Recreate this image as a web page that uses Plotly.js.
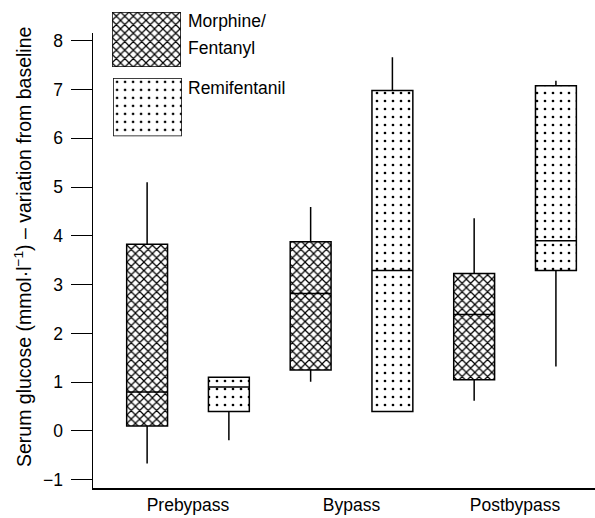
<!DOCTYPE html>
<html>
<head>
<meta charset="utf-8">
<script src="https://cdn.plot.ly/plotly-3.0.1.min.js"></script>
<style>
  html, body { margin: 0; padding: 0; background: #fff; }
  #chart { width: 595px; height: 518px; }
</style>
</head>
<body>
<div id="chart"></div>
<script>
// Phases of surgery
const categories = ['Prebypass', 'Bypass', 'Postbypass'];

// Morphine/Fentanyl group: change in serum glucose (mmol/l)
const morphMin = [-0.67, 1.01, 0.62];
const morphQ1  = [0.10, 1.25, 1.05];
const morphMed = [0.80, 2.82, 2.39];
const morphQ3  = [3.83, 3.88, 3.23];
const morphMax = [5.10, 4.59, 4.36];

// Remifentanil group
const remiMin = [-0.19, 0.40, 1.32];
const remiQ1  = [0.40, 0.40, 3.29];
const remiMed = [0.90, 3.29, 3.90];
const remiQ3  = [1.10, 6.98, 7.08];
const remiMax = [1.10, 7.66, 7.18];

const yTicks = [-1, 0, 1, 2, 3, 4, 5, 6, 7, 8];

const FONT = 'Liberation Sans, Arial, Helvetica, sans-serif';
const BOX_W = 0.25;
const pos = categories.map((c, i) => i);
const morphX = pos.map(p => p - 0.25);
const remiX = pos.map(p => p + 0.25);

const crossPattern = { shape: 'x', size: 6, solidity: 0.36, fgcolor: '#000', bgcolor: '#fff', fillmode: 'replace' };
const dotPattern = { shape: '.', size: 8, solidity: 0.09, fgcolor: '#000', bgcolor: '#fff', fillmode: 'replace' };

function fillBar(x, q1, q3, pattern) {
  return {
    type: 'bar', x: x, base: q1, y: q3.map((v, i) => v - q1[i]),
    width: BOX_W, marker: { color: '#fff', pattern: pattern, line: { width: 0 } },
    xaxis: 'x', yaxis: 'y', showlegend: false, hoverinfo: 'skip'
  };
}

function outlineBox(x, lo, q1, med, q3, hi) {
  return {
    type: 'box', x: x, lowerfence: lo, q1: q1, median: med, q3: q3, upperfence: hi,
    width: BOX_W, whiskerwidth: 0, boxpoints: false,
    fillcolor: 'rgba(0,0,0,0)', line: { color: '#000', width: 1.5 },
    xaxis: 'x', yaxis: 'y', showlegend: false, hoverinfo: 'skip'
  };
}

function swatch(ax, pattern) {
  return {
    type: 'bar', x: [0], y: [1], width: [1], cliponaxis: false,
    marker: { color: '#fff', pattern: pattern, line: { color: '#000', width: 1.5 } },
    xaxis: 'x' + ax, yaxis: 'y' + ax, showlegend: false, hoverinfo: 'skip'
  };
}

const data = [
  fillBar(morphX, morphQ1, morphQ3, crossPattern),
  fillBar(remiX, remiQ1, remiQ3, dotPattern),
  outlineBox(morphX, morphMin, morphQ1, morphMed, morphQ3, morphMax),
  outlineBox(remiX, remiMin, remiQ1, remiMed, remiQ3, remiMax),
  swatch(2, crossPattern),
  swatch(3, dotPattern)
];

const hiddenAxis = { visible: false, showgrid: false, zeroline: false, fixedrange: true };

const layout = {
  width: 595, height: 518,
  margin: { l: 93, r: 0, t: 10, b: 30 },
  paper_bgcolor: '#fff', plot_bgcolor: 'rgba(0,0,0,0)',
  font: { family: FONT, size: 17.5, color: '#000' },
  barmode: 'overlay', boxmode: 'overlay',
  showlegend: false,
  xaxis: {
    domain: [0, 1], range: [-0.581, 2.489],
    tickmode: 'array', tickvals: pos, ticktext: categories,
    ticks: '', showline: true, linecolor: '#000', linewidth: 1.5,
    showgrid: false, zeroline: false, fixedrange: true
  },
  yaxis: {
    domain: [0, 0.9519], range: [-1.17, 8.16],
    tickmode: 'array', tickvals: yTicks,
    ticks: 'outside', ticklen: 21, tickwidth: 1, tickcolor: '#000',
    showline: true, linecolor: '#000', linewidth: 1.5,
    showgrid: false, zeroline: false, fixedrange: true,
    ticklabelstandoff: 4
  },
  xaxis2: Object.assign({ domain: [0.038, 0.175], anchor: 'y2', range: [-0.5, 0.5] }, hiddenAxis),
  yaxis2: Object.assign({ domain: [0.881, 0.996], anchor: 'x2', range: [0, 1] }, hiddenAxis),
  xaxis3: Object.assign({ domain: [0.040, 0.177], anchor: 'y3', range: [-0.5, 0.5] }, hiddenAxis),
  yaxis3: Object.assign({ domain: [0.736, 0.858], anchor: 'x3', range: [0, 1] }, hiddenAxis),
  annotations: [
    // y-axis title
    { text: 'Serum glucose (mmol·l<sup>−1</sup>) – variation from baseline', textangle: -90,
      font: { size: 19.5 }, xref: 'paper', yref: 'paper', x: (22.5 - 93) / 502, y: (488 - 247.5) / 478,
      xanchor: 'center', yanchor: 'middle', showarrow: false },
    // legend labels
    { text: 'Morphine/', xref: 'paper', yref: 'paper', x: 0.185, y: (488 - 21) / 478, xanchor: 'left', yanchor: 'middle', showarrow: false },
    { text: 'Fentanyl', xref: 'paper', yref: 'paper', x: 0.185, y: (488 - 48) / 478, xanchor: 'left', yanchor: 'middle', showarrow: false },
    { text: 'Remifentanil', xref: 'paper', yref: 'paper', x: 0.185, y: (488 - 88) / 478, xanchor: 'left', yanchor: 'middle', showarrow: false }
  ]
};

Plotly.newPlot('chart', data, layout, { staticPlot: true, displayModeBar: false });
</script>
</body>
</html>
